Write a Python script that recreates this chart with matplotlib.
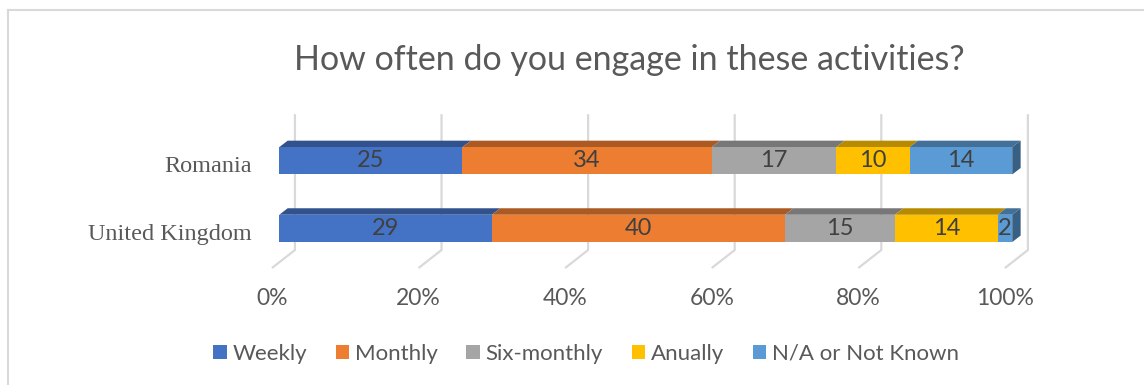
import matplotlib
matplotlib.use("Agg")
import matplotlib.pyplot as plt
from matplotlib.patches import Polygon, Patch
from matplotlib.lines import Line2D
from matplotlib.colors import to_rgb
import numpy as np

# Survey results (percent of respondents)
countries = ["United Kingdom", "Romania"]
series = ["Weekly", "Monthly", "Six-monthly", "Anually", "N/A or Not Known"]
weekly = [29, 25]
monthly = [40, 34]
six_monthly = [15, 17]
anually = [14, 10]
not_known = [2, 14]
ticks = [0, 20, 40, 60, 80, 100]

colors = ["#4472C4", "#ED7D31", "#A5A5A5", "#FFC000", "#5B9BD5"]
text_grey = "#595959"
grid_grey = "#D9D9D9"

W, H = 1144, 385
fig = plt.figure(figsize=(W / 100, H / 100), dpi=100)
ax = fig.add_axes([0.2441, 0.3014, 0.6407, 0.4126])
ax.set_xlim(0, 100)
ax.set_ylim(-0.6, 1.75)
ax.axis("off")

# 3D look: depth of the bars and of the back wall, in data units
bar_h = 0.404
dx, dy = 1.15, 0.096
wall_dx, wall_bottom, wall_top = 2.14, -0.32, 1.69
floor_dx, floor_y = -1.0, -0.586


def darker(c, f=0.72):
    return tuple(v * f for v in to_rgb(c))


# back wall gridlines with the floor diagonal
for t in ticks:
    ax.plot([t + wall_dx, t + wall_dx, t + floor_dx],
            [wall_top, wall_bottom, floor_y],
            color=grid_grey, lw=1.6, zorder=1, clip_on=False,
            solid_capstyle="butt")
    ax.text(t + floor_dx, -1.03, f"{t}%", ha="center", va="center",
            fontsize=16.5, color=text_grey, family="Lato")

values = np.array([weekly, monthly, six_monthly, anually, not_known], dtype=float)
y = np.arange(len(countries))
left = np.zeros(len(countries))
for vals, name, col in zip(values, series, colors):
    ax.barh(y, vals, left=left, height=bar_h, color=col, zorder=3,
            edgecolor="none")
    for yi, l, v in zip(y, left, vals):
        top = yi + bar_h / 2
        ax.add_patch(Polygon([(l, top), (l + v, top), (l + v + dx, top + dy),
                              (l + dx, top + dy)], closed=True,
                             facecolor=darker(col), edgecolor="none",
                             zorder=2.9, clip_on=False))
        ax.text(l + v / 2, yi, f"{v:g}", ha="center", va="center",
                fontsize=17, color="#404040", family="Lato", zorder=5)
    left += vals

# right-hand side face of each bar
for yi, total in zip(y, left):
    bot, top = yi - bar_h / 2, yi + bar_h / 2
    ax.add_patch(Polygon([(total, bot), (total, top), (total + dx, top + dy),
                          (total + dx, bot + dy)], closed=True,
                         facecolor=darker(colors[-1], 0.62), edgecolor="none",
                         zorder=2.9, clip_on=False))

for yi, name in zip(y, countries):
    ax.text(-3.7, yi - 0.09, name, ha="right", va="center", fontsize=17.5,
            color=text_grey, family="Liberation Serif")

fig.text(629.5 / W, 1 - 60 / H, "How often do you engage in these activities?",
         ha="center", va="center", fontsize=24.5, color=text_grey, family="Lato")

handles = [Patch(facecolor=c, edgecolor="none") for c in colors]
fig.legend(handles, series, loc="center", bbox_to_anchor=(586 / W, 1 - 354 / H),
           ncol=5, frameon=False, handlelength=0.6,
           handleheight=0.63, handletextpad=0.25, columnspacing=1.3,
           prop={"family": "Lato", "size": 16}, labelcolor=text_grey)

# chart area border
fig.add_artist(Line2D([8 / W, 8 / W], [0, 1 - 10 / H], color=grid_grey, lw=1.5))
fig.add_artist(Line2D([8 / W, 1], [1 - 10 / H, 1 - 10 / H], color=grid_grey, lw=1.5))

fig.savefig("out.png", dpi=100, facecolor="white")
